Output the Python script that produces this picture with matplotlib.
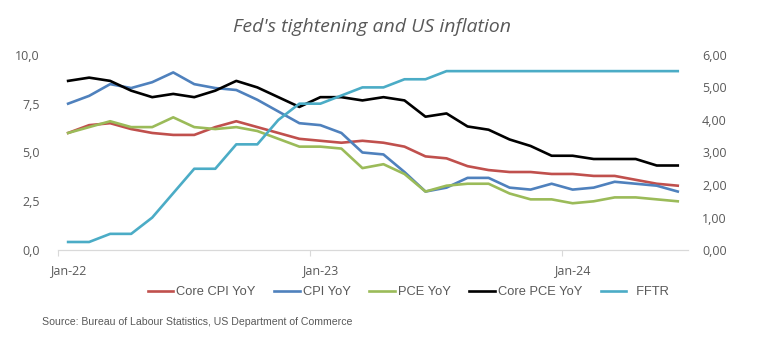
#!/usr/bin/env python3

"""Fed's tightening and US inflation chart."""

import matplotlib
matplotlib.use("Agg")
import matplotlib.pyplot as plt
from matplotlib.ticker import FuncFormatter

# monthly data Jan-22 .. Jun-24
core_cpi = [6.0, 6.4, 6.5, 6.2, 6.0, 5.9, 5.9, 6.3, 6.6, 6.3, 6.0, 5.7,
            5.6, 5.5, 5.6, 5.5, 5.3, 4.8, 4.7, 4.3, 4.1, 4.0, 4.0, 3.9,
            3.9, 3.8, 3.8, 3.6, 3.4, 3.3]
cpi = [7.5, 7.9, 8.5, 8.3, 8.6, 9.1, 8.5, 8.3, 8.2, 7.7, 7.1, 6.5,
       6.4, 6.0, 5.0, 4.9, 4.0, 3.0, 3.2, 3.7, 3.7, 3.2, 3.1, 3.4,
       3.1, 3.2, 3.5, 3.4, 3.3, 3.0]
pce = [6.0, 6.3, 6.6, 6.3, 6.3, 6.8, 6.3, 6.2, 6.3, 6.1, 5.7, 5.3,
       5.3, 5.2, 4.2, 4.4, 3.9, 3.0, 3.3, 3.4, 3.4, 2.9, 2.6, 2.6,
       2.4, 2.5, 2.7, 2.7, 2.6, 2.5]
# right axis
core_pce = [5.2, 5.3, 5.2, 4.9, 4.7, 4.8, 4.7, 4.9, 5.2, 5.0, 4.7, 4.4,
            4.7, 4.7, 4.6, 4.7, 4.6, 4.1, 4.2, 3.8, 3.7, 3.4, 3.2, 2.9,
            2.9, 2.8, 2.8, 2.8, 2.6, 2.6]
fftr = [0.25, 0.25, 0.5, 0.5, 1.0, 1.75, 2.5, 2.5, 3.25, 3.25, 4.0, 4.5,
        4.5, 4.75, 5.0, 5.0, 5.25, 5.25, 5.5, 5.5, 5.5, 5.5, 5.5, 5.5,
        5.5, 5.5, 5.5, 5.5, 5.5, 5.5]

year_labels = ["Jan-22", "Jan-23", "Jan-24"]
year_pos = [0, 12, 24]

GREY = "#595959"
AXIS = "#D9D9D9"
TICK_FONT = ["Open Sans", "DejaVu Sans"]
NARROW = ["Liberation Sans Narrow", "Liberation Sans", "DejaVu Sans"]


def main():
    x = list(range(len(cpi)))
    fig = plt.figure(figsize=(7.58, 3.45), dpi=100)
    ax = fig.add_axes([0.076, 0.275, 0.832, 0.566])
    ax2 = ax.twinx()

    lw = 1.9
    l1, = ax.plot(x, core_cpi, color="#C0504D", lw=lw, label="Core CPI YoY")
    l2, = ax.plot(x, cpi, color="#4F81BD", lw=lw, label="CPI YoY")
    l3, = ax.plot(x, pce, color="#9BBB59", lw=lw, label="PCE YoY")
    l4, = ax2.plot(x, core_pce, color="black", lw=lw, label="Core PCE YoY")
    l5, = ax2.plot(x, fftr, color="#4BACC6", lw=lw, label="  FFTR")

    ax.set_xlim(-0.5, len(x) - 0.5)
    ax.set_ylim(0, 10)
    ax2.set_ylim(0, 6)
    ax.set_yticks([0, 2.5, 5, 7.5, 10])
    ax2.set_yticks([0, 1, 2, 3, 4, 5, 6])
    ax.yaxis.set_major_formatter(
        FuncFormatter(lambda v, _: f"{v:.1f}".replace(".", ",")))
    ax2.yaxis.set_major_formatter(
        FuncFormatter(lambda v, _: f"{v:.2f}".replace(".", ",")))

    # ticks between categories, labels on the January points
    ax.set_xticks([p - 0.5 for p in year_pos])
    ax.set_xticklabels([])
    ax.set_xticks(year_pos, minor=True)
    ax.set_xticklabels(year_labels, minor=True)
    ax.tick_params(axis="x", which="major", length=4, color=AXIS)
    ax.tick_params(axis="x", which="minor", length=0, pad=10,
                   labelcolor=GREY, labelsize=9)
    ax.tick_params(axis="y", length=0, pad=13, labelcolor=GREY, labelsize=9)
    ax2.tick_params(axis="y", length=0, pad=10, labelcolor=GREY, labelsize=9)
    for lab in (ax.get_xticklabels(minor=True) + ax.get_yticklabels()
                + ax2.get_yticklabels()):
        lab.set_family(TICK_FONT)

    for a in (ax, ax2):
        for side in ("left", "right", "top"):
            a.spines[side].set_visible(False)
        a.spines["bottom"].set_color(AXIS)

    fig.text(0.491, 0.922, "Fed's tightening and US inflation",
             ha="center", va="center", fontsize=14, style="italic",
             color=GREY, family=TICK_FONT)

    fig.legend(handles=[l1, l2, l3, l4, l5], loc="center",
               bbox_to_anchor=(408.5 / 758, 1 - 292 / 345), ncol=5,
               frameon=False, handlelength=1.95, handletextpad=0.25,
               columnspacing=1.45, prop={"family": NARROW, "size": 9.3},
               labelcolor=GREY)

    fig.text(42 / 758, 1 - 322 / 345,
             "Source: Bureau of Labour Statistics, US Department of Commerce",
             ha="left", va="center", fontsize=7.6, color=GREY, family=NARROW)

    fig.savefig("out.png", dpi=100)


if __name__ == "__main__":
    main()
